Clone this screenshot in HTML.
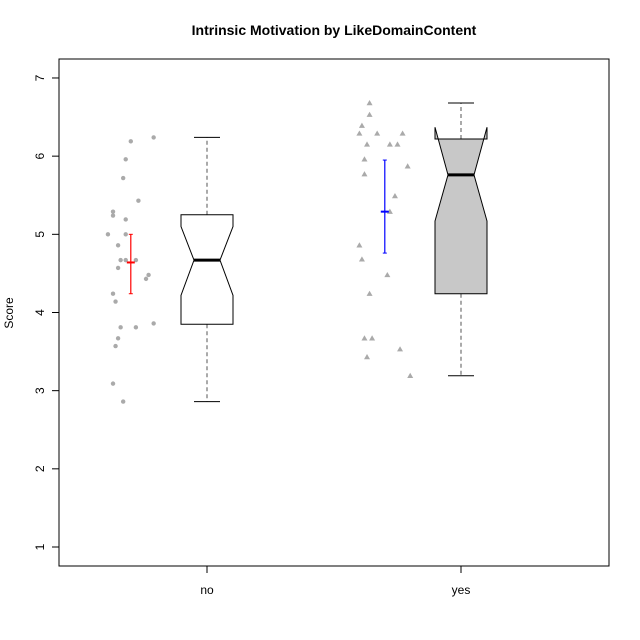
<!DOCTYPE html>
<html><head><meta charset="utf-8"><style>
body{margin:0;background:#fff}
svg{display:block;font-family:"Liberation Sans",Arial,sans-serif}
</style></head><body>
<svg id="chart" width="640" height="640" viewBox="0 0 640 640">
<rect x="0" y="0" width="640" height="640" fill="#fff"/>
<text x="334" y="35" text-anchor="middle" font-size="14" font-weight="bold">Intrinsic Motivation by LikeDomainContent</text>
<rect x="59" y="59" width="550" height="507" fill="none" stroke="#000" stroke-width="1"/>
<text transform="translate(13,313) rotate(-90)" text-anchor="middle" font-size="12">Score</text>
<g id="g-axes"></g><g id="g-box"></g><g id="g-pts"></g>
</svg>
<script>
const categories = ["no","yes"];
const yTicks = [1,2,3,4,5,6,7];
const noValues = [6.24,6.19,5.96,5.72,5.43,5.29,5.24,5.19,5.00,5.00,4.86,4.67,4.67,4.67,4.57,4.48,4.43,4.24,4.14,3.81,3.81,3.86,3.67,3.57,3.09,2.86];
const noJitter = [0.09,-0.0,-0.02,-0.03,0.03,-0.07,-0.07,-0.02,-0.09,-0.02,-0.05,-0.04,-0.02,0.02,-0.05,0.07,0.06,-0.07,-0.06,-0.04,0.02,0.09,-0.05,-0.06,-0.07,-0.03];
const yesValues = [6.68,6.53,6.39,6.29,6.29,6.29,6.15,6.15,6.15,5.96,5.87,5.77,5.49,5.29,4.86,4.68,4.48,4.24,3.67,3.67,3.53,3.43,3.19];
const yesJitter = [-0.06,-0.06,-0.09,-0.10,-0.03,0.07,-0.07,0.02,0.05,-0.08,0.09,-0.08,0.04,0.02,-0.10,-0.09,0.01,-0.06,-0.08,-0.05,0.06,-0.07,0.10];
// box stats: [whiskerLow, q1, notchLow, median, notchHigh, q3, whiskerHigh]
const boxStats = [[2.86,3.85,4.22,4.67,5.10,5.25,6.24],[3.19,4.24,5.17,5.76,6.37,6.22,6.68]];
const boxFill = ["#ffffff","#c8c8c8"];
const means = [4.64,5.29];
const ciLow = [4.24,4.76];
const ciHigh = [5.00,5.95];
const meanColors = ["#ff0000","#0000ff"];

const NS="http://www.w3.org/2000/svg";
const y = v => 547 - (v-1)*78.17;
const x = c => 207 + (c-1)*254;
function mk(tag, attrs, parent){const e=document.createElementNS(NS,tag);for(const k in attrs)e.setAttribute(k,attrs[k]);parent.appendChild(e);return e;}
const gA=document.getElementById('g-axes'), gB=document.getElementById('g-box'), gP=document.getElementById('g-pts');

let yl=mk('line',{x1:59,x2:59,y1:y(1),y2:y(7),stroke:'#000'},gA);


yTicks.forEach(t=>{
  const l=mk('line',{x1:52,x2:59,y1:y(t),y2:y(t),stroke:'#000'},gA);
  
  
  const tx=mk('text',{transform:`translate(44,${y(t)}) rotate(-90)`,'text-anchor':'middle','font-size':12},gA);
  tx.textContent=t;
  
  
});
let xl=mk('line',{x1:x(1),x2:x(2),y1:566,y2:566,stroke:'#000'},gA);


categories.forEach((c,i)=>{
  const l=mk('line',{x1:x(i+1),x2:x(i+1),y1:566,y2:573,stroke:'#000'},gA);
  
  
  const tx=mk('text',{x:x(i+1),y:594,'text-anchor':'middle','font-size':12},gA);
  tx.textContent=c;
  
  
});

boxStats.forEach((s,i)=>{
  const cx=x(i+1), hw=26, nw=13;
  const [wl,q1,nl,md,nh,q3,wh]=s;
  const w1=mk('line',{x1:cx,x2:cx,y1:y(q1),y2:y(wl),stroke:'#555','stroke-dasharray':'4,3'},gB);
  
  
  const w2=mk('line',{x1:cx,x2:cx,y1:y(q3),y2:y(wh),stroke:'#555','stroke-dasharray':'4,3'},gB);
  
  
  [wl,wh].forEach(v=>{
    const c=mk('line',{x1:cx-nw,x2:cx+nw,y1:y(v),y2:y(v),stroke:'#000'},gB);
    
    
  });
  const pts=[[cx-hw,y(q1)],[cx+hw,y(q1)],[cx+hw,y(nl)],[cx+nw,y(md)],[cx+hw,y(nh)],[cx+hw,y(q3)],[cx-hw,y(q3)],[cx-hw,y(nh)],[cx-nw,y(md)],[cx-hw,y(nl)]];
  const p=mk('polygon',{points:pts.map(q=>q.join(',')).join(' '),fill:boxFill[i],stroke:'#000','stroke-width':1},gB);
  
  
  const m=mk('line',{x1:cx-nw,x2:cx+nw,y1:y(md),y2:y(md),stroke:'#000','stroke-width':3},gB);
  
  
});

noValues.forEach((v,i)=>{
  const c=mk('circle',{cx:x(0.7+noJitter[i]),cy:y(v),r:2.2,fill:'#aaa'},gP);
  
  
});
yesValues.forEach((v,i)=>{
  const px=x(1.7+yesJitter[i]), py=y(v);
  const t=mk('polygon',{points:`${px},${py-3} ${px-3},${py+2.2} ${px+3},${py+2.2}`,fill:'#aaa'},gP);
  
  
});
means.forEach((m,i)=>{
  const cx=x(i+0.7), col=meanColors[i];
  const l=mk('line',{x1:cx,x2:cx,y1:y(ciLow[i]),y2:y(ciHigh[i]),stroke:col,'stroke-width':1.2},gP);
  
  
  [ciLow[i],ciHigh[i]].forEach(v=>{
    const c=mk('line',{x1:cx-2,x2:cx+2,y1:y(v),y2:y(v),stroke:col},gP);
    
    
  });
  const mm=mk('line',{x1:cx-4,x2:cx+4,y1:y(m),y2:y(m),stroke:col,'stroke-width':2},gP);
  
  
});
</script>
</body></html>
